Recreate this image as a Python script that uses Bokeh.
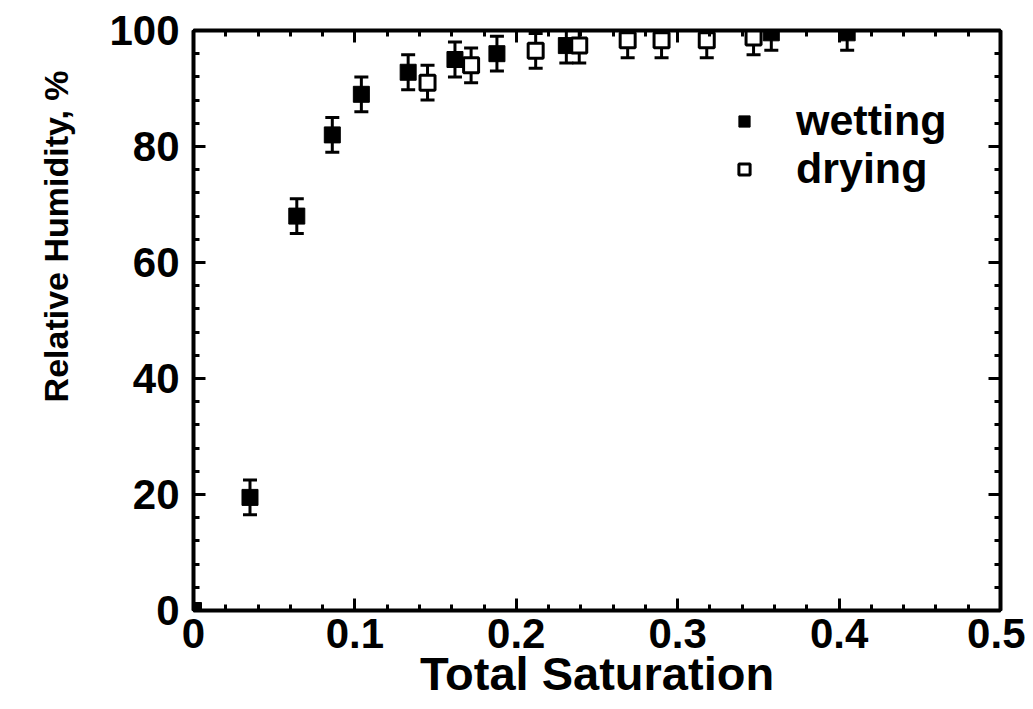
from bokeh.plotting import figure
from bokeh.models import (LinearAxis, Range1d, Whisker, ColumnDataSource, Legend,
                          LegendItem, TeeHead, SingleIntervalTicker, CustomJSTickFormatter, Title)
from bokeh.embed import file_html
from bokeh.resources import INLINE

# ---- data ----
wet_x = [0.0, 0.035, 0.064, 0.086, 0.104, 0.133, 0.162, 0.188, 0.231, 0.358, 0.405]
wet_y = [0.0, 19.5, 68.0, 82.0, 89.0, 92.8, 95.0, 96.0, 97.4, 99.6, 99.6]
wet_err = [0.0, 3.0, 3.0, 3.0, 3.0, 3.0, 3.0, 3.0, 3.0, 3.0, 3.0]

dry_x = [0.145, 0.172, 0.212, 0.239, 0.269, 0.290, 0.318, 0.347]
dry_y = [91.0, 94.0, 96.5, 97.4, 98.3, 98.3, 98.3, 98.8]
dry_err = [3.0, 3.0, 3.0, 3.0, 3.0, 3.0, 3.0, 3.0]

x_ticks = [0, 0.1, 0.2, 0.3, 0.4, 0.5]
x_tick_labels = ["0", "0.1", "0.2", "0.3", "0.4", "0.5"]
y_ticks = [0, 20, 40, 60, 80, 100]

FONT = "Liberation Sans"

p = figure(width=1025, height=702, output_backend="svg", toolbar_location=None,
           x_range=Range1d(0, 0.5), y_range=Range1d(0, 100),
           x_axis_location=None, y_axis_location=None)
p.min_border_left = 193
p.min_border_right = 25
p.min_border_top = 30
p.min_border_bottom = 88
p.xgrid.visible = False
p.ygrid.visible = False
p.outline_line_color = "black"
p.outline_line_width = 3
p.background_fill_color = "white"
p.border_fill_color = "white"


def style_axis(ax, show_labels):
    ax.axis_line_width = 4
    ax.axis_line_color = "black"
    ax.major_tick_in = 12
    ax.major_tick_out = 0
    ax.minor_tick_in = 6
    ax.minor_tick_out = 0
    ax.major_tick_line_width = 3
    ax.minor_tick_line_width = 3
    ax.major_label_text_font = FONT
    ax.major_label_text_font_style = "bold"
    ax.major_label_text_color = "black"
    ax.axis_label_text_color = "black"
    if not show_labels:
        ax.formatter = CustomJSTickFormatter(code="return ''")
        ax.major_label_standoff = 0


xt = SingleIntervalTicker(interval=0.1, num_minor_ticks=5)
yt = SingleIntervalTicker(interval=20, num_minor_ticks=5)

xb = LinearAxis(ticker=xt, axis_label="Total Saturation")
style_axis(xb, True)
xb.major_label_text_font_size = "42px"
xb.major_label_standoff = 8
xb.major_label_overrides = {t: l for t, l in zip(x_ticks, x_tick_labels)}
xb.axis_label_text_font = FONT
xb.axis_label_text_font_style = "bold"
xb.axis_label_text_font_size = "47px"
xb.axis_label_standoff = -4
p.add_layout(xb, "below")

yl = LinearAxis(ticker=yt)
style_axis(yl, True)
yl.major_label_text_font_size = "42px"
yl.major_label_standoff = 14
p.add_layout(yl, "left")

ytitle = Title(text="Relative Humidity, %", align="right", offset=40,
               text_font=FONT, text_font_style="bold", text_font_size="34px",
               text_color="black", standoff=64)
p.add_layout(ytitle, "left")

xa = LinearAxis(ticker=SingleIntervalTicker(interval=0.1, num_minor_ticks=5))
style_axis(xa, False)
p.add_layout(xa, "above")

yr = LinearAxis(ticker=SingleIntervalTicker(interval=20, num_minor_ticks=5))
style_axis(yr, False)
p.add_layout(yr, "right")

wet_src = ColumnDataSource(dict(x=wet_x, y=wet_y,
                                lo=[a - b for a, b in zip(wet_y, wet_err)],
                                hi=[a + b for a, b in zip(wet_y, wet_err)]))
dry_src = ColumnDataSource(dict(x=dry_x, y=dry_y,
                                lo=[a - b for a, b in zip(dry_y, dry_err)],
                                hi=[a + b for a, b in zip(dry_y, dry_err)]))

for src in (wet_src, dry_src):
    w = Whisker(source=src, base="x", lower="lo", upper="hi",
                line_width=3, line_color="black",
                upper_head=TeeHead(size=14, line_width=3, line_color="black"),
                lower_head=TeeHead(size=14, line_width=3, line_color="black"))
    w.level = "underlay"
    p.add_layout(w)

r_wet = p.scatter("x", "y", source=wet_src, marker="square", size=16,
                  fill_color="black", line_color="black", line_width=1)
r_dry = p.scatter("x", "y", source=dry_src, marker="square", size=15,
                  fill_color="white", line_color="black", line_width=3)


def make_legend(label, renderer, loc):
    lg = Legend(items=[LegendItem(label=label, renderers=[renderer])], location=loc)
    lg.border_line_color = None
    lg.background_fill_alpha = 0
    lg.label_text_font = FONT
    lg.label_text_font_style = "bold"
    lg.label_text_font_size = "43px"
    lg.label_text_color = "black"
    lg.label_standoff = 38
    lg.glyph_width = 28
    lg.glyph_height = 28
    lg.label_height = 30
    lg.padding = 0
    lg.margin = 0
    p.add_layout(lg, "center")


make_legend("wetting", r_wet, (537, 465))
make_legend("drying", r_dry, (537, 417))

open("out.html", "w").write(file_html(p, INLINE))
